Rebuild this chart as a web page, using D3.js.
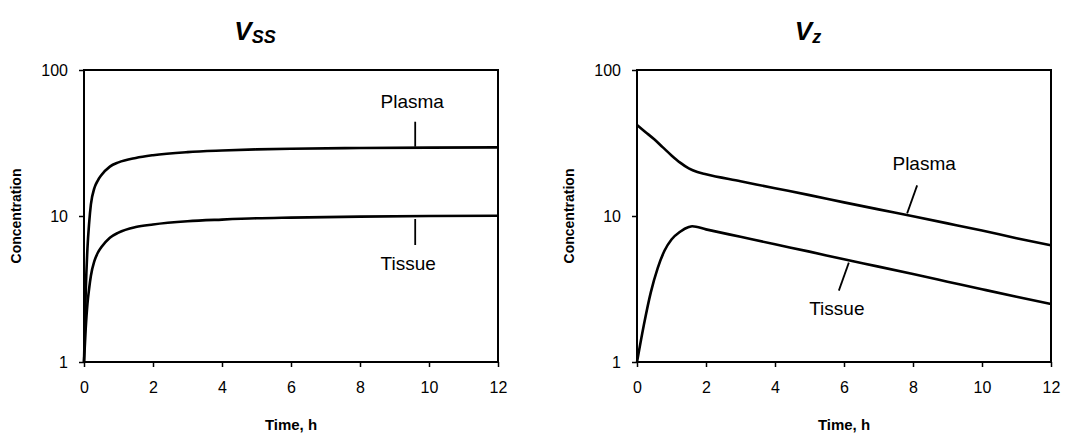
<!DOCTYPE html>
<html>
<head>
<meta charset="utf-8">
<script src="https://cdn.jsdelivr.net/npm/d3@7"></script>
<style>
  body { margin: 0; background: #fff; }
  text { font-family: "Liberation Sans", Arial, sans-serif; }
</style>
</head>
<body>
<script>
// time points, hours
var timeVss = [0, 0.05, 0.1, 0.15, 0.2, 0.3, 0.4, 0.5, 0.75, 1, 1.5, 2, 3, 4, 5, 6, 8, 10, 12];
var plasmaVss = [1, 3, 6, 9, 12, 15.5, 17.5, 19, 21.8, 23.3, 25, 26.1, 27.4, 28.1, 28.6, 28.9, 29.2, 29.4, 29.5];
var tissueVss = [1, 1.7, 2.5, 3.2, 3.9, 4.9, 5.6, 6.1, 7.1, 7.7, 8.4, 8.75, 9.2, 9.45, 9.65, 9.75, 9.9, 10, 10.05];

var timePlasmaVz = [0, 0.25, 0.5, 0.75, 1, 1.25, 1.5, 1.75, 2, 3, 4, 5, 6, 7, 8, 9, 10, 11, 12];
var plasmaVz = [42, 37.5, 33.5, 29.5, 26, 23.2, 21.2, 20, 19.3, 17.3, 15.5, 13.9, 12.4, 11.1, 9.95, 8.9, 7.95, 7.05, 6.3];
var timeTissueVz = [0, 0.2, 0.4, 0.6, 0.8, 1, 1.25, 1.5, 1.6, 2, 3, 4, 5, 6, 7, 8, 9, 10, 11, 12];
var tissueVz = [1, 1.8, 3.0, 4.4, 5.8, 6.9, 7.8, 8.4, 8.5, 8.1, 7.2, 6.4, 5.7, 5.05, 4.5, 4.0, 3.55, 3.15, 2.8, 2.5];

var xTicks = [0, 2, 4, 6, 8, 10, 12];
var yTicks = [1, 10, 100];

var width = 1084, height = 436;

var svg = d3.select("body").append("svg")
    .attr("width", width)
    .attr("height", height);

function zip(t, v) {
  return t.map(function(d, i) { return {t: d, c: v[i]}; });
}

function drawPanel(opt) {
  var x = d3.scaleLinear().domain([0, 12]).range([opt.left, opt.right]);
  var y = d3.scaleLog().domain([1, 100]).range([opt.bottom, opt.top]);

  // frame
  svg.append("rect")
    .attr("x", opt.left).attr("y", opt.top)
    .attr("width", opt.right - opt.left).attr("height", opt.bottom - opt.top)
    .attr("fill", "none").attr("stroke", "#000").attr("stroke-width", 2);

  var xAxis = svg.append("g")
    .attr("transform", "translate(0," + opt.bottom + ")")
    .call(d3.axisBottom(x).tickValues(xTicks).tickSize(5).tickPadding(15).tickFormat(d3.format("d")));
  var yAxis = svg.append("g")
    .attr("transform", "translate(" + opt.left + ",0)")
    .call(d3.axisLeft(y).tickValues(yTicks).tickSize(5).tickPadding(11).tickFormat(d3.format("d")));

  [xAxis, yAxis].forEach(function(a) {
    a.select(".domain").remove();
    a.selectAll("line").attr("stroke", "#000").attr("stroke-width", 1.5);
    a.selectAll("text").attr("font-size", 16).attr("fill", "#000")
      .style("font-family", "'Liberation Sans', Arial, sans-serif");
  });

  // title, V with italic subscript, centred a bit left of the plot
  var cx = (opt.left + opt.right) / 2;
  var title = svg.append("text")
    .attr("x", cx - 36).attr("y", 40)
    .attr("font-weight", "bold").attr("font-style", "italic");
  title.append("tspan").attr("font-size", 26).text("V");
  title.append("tspan").attr("font-size", 18).attr("dy", 3).text(opt.sub);
  var bb = title.node().getBBox();
  title.attr("x", cx - 36 - bb.width / 2);

  svg.append("text")
    .attr("x", cx).attr("y", 430)
    .attr("text-anchor", "middle")
    .attr("font-size", 15).attr("font-weight", "bold")
    .text("Time, h");

  svg.append("text")
    .attr("transform", "translate(" + (opt.left - 63) + "," + ((opt.top + opt.bottom) / 2) + ")rotate(-90)")
    .attr("text-anchor", "middle")
    .attr("font-size", 14).attr("font-weight", "bold")
    .text("Concentration");

  var line = d3.line()
    .x(function(d) { return x(d.t); })
    .y(function(d) { return y(d.c); })
    .curve(d3.curveMonotoneX);

  opt.series.forEach(function(s) {
    svg.append("path")
      .datum(s.data)
      .attr("d", line)
      .attr("fill", "none")
      .attr("stroke", "#000")
      .attr("stroke-width", 2.6)
      .attr("stroke-linejoin", "round");
  });

  // labels with leader lines
  opt.labels.forEach(function(l) {
    var px = x(l.t), py = y(l.c);
    svg.append("line")
      .attr("x1", px + l.l1[0]).attr("y1", py + l.l1[1])
      .attr("x2", px + l.l2[0]).attr("y2", py + l.l2[1])
      .attr("stroke", "#000").attr("stroke-width", 1.8);
    svg.append("text")
      .attr("x", px + l.tx[0]).attr("y", py + l.tx[1])
      .attr("text-anchor", "middle")
      .attr("font-size", 19)
      .text(l.text);
  });
}

drawPanel({
  left: 84, right: 498, top: 70, bottom: 362, sub: "SS",
  series: [{data: zip(timeVss, plasmaVss)}, {data: zip(timeVss, tissueVss)}],
  labels: [
    {text: "Plasma", t: 9.6, c: 29.35, l1: [0, -1], l2: [0, -26], tx: [-3, -40]},
    {text: "Tissue", t: 9.6, c: 10, l1: [0, 3], l2: [0, 29], tx: [-7, 54]}
  ]
});

drawPanel({
  left: 637, right: 1051, top: 70, bottom: 362, sub: "z",
  series: [{data: zip(timePlasmaVz, plasmaVz)}, {data: zip(timeTissueVz, tissueVz)}],
  labels: [
    {text: "Plasma", t: 7.83, c: 10.1, l1: [0, -2], l2: [10, -30], tx: [17, -45]},
    {text: "Tissue", t: 6.14, c: 4.95, l1: [0, 2], l2: [-10, 30], tx: [-12, 54]}
  ]
});
</script>
</body>
</html>
